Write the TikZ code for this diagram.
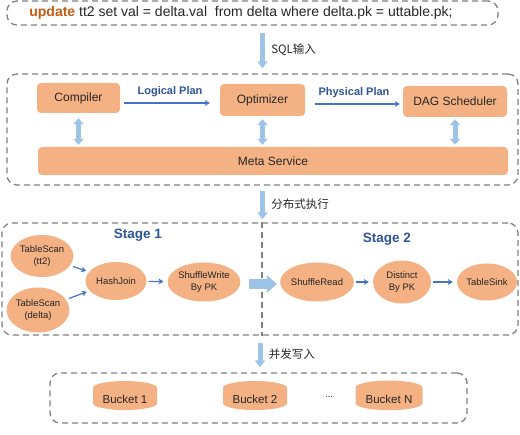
\documentclass[tikz,border=0pt]{standalone}
\usepackage{fontspec}
\setmainfont{Liberation Sans}
\newfontfamily\cjk{Noto Sans CJK SC}
\usetikzlibrary{positioning,arrows.meta,shapes.geometric}
\definecolor{fillorange}{HTML}{F4B183}
\definecolor{lightarrow}{HTML}{9DC3E6}
\definecolor{flowblue}{HTML}{4472C4}
\definecolor{stageblue}{HTML}{2F5597}
\definecolor{sqlorange}{HTML}{C55A11}
\definecolor{groupgray}{HTML}{808080}
\tikzset{
    >=Stealth,
    group/.style={rectangle, draw=groupgray, dash pattern=on 6pt off 4pt, line width=1.3pt, rounded corners=10pt, inner sep=0pt},
    block/.style={rectangle, rounded corners=4pt, fill=fillorange, align=center, inner sep=0pt, text=black!85, font=\fontsize{12}{14}\selectfont},
    op/.style={ellipse, fill=fillorange, align=center, inner sep=0pt, text=black!85, font=\fontsize{9.5}{12}\selectfont},
    bucket/.style={cylinder, shape border rotate=90, aspect=0.3, fill=fillorange, inner sep=0pt, text=black!85, font=\fontsize{11.5}{13}\selectfont},
    bigflow/.style={draw=lightarrow, line width=5pt, -{Triangle[width=10pt,length=7pt]}},
    wideflow/.style={draw=lightarrow, line width=10pt, -{Triangle[width=17pt,length=10pt]}},
    sync/.style={draw=lightarrow, line width=5pt, {Triangle[width=10pt,length=6pt]}-{Triangle[width=10pt,length=6pt]}},
    flow/.style={draw=flowblue, line width=1.2pt, -{Stealth[length=5pt,width=6pt]}},
    planlabel/.style={text=stageblue, font=\bfseries\fontsize{11}{13}\selectfont},
    stagelabel/.style={text=stageblue, font=\bfseries\fontsize{13.5}{15}\selectfont},
    steplabel/.style={right, font=\cjk\fontsize{11.5}{13}\selectfont, text=black!85}
}

\begin{document}
\begin{tikzpicture}[x=1pt, y=-1pt]
    \useasboundingbox (0,0) rectangle (520,435);

    % SQL statement
    \node[group, minimum width=491pt, minimum height=24pt] (sqlbox) at (252.5,13) {};
    \node[font=\fontsize{14}{16}\selectfont, text=black!85] (sql) at (241,13)
        {\textcolor{sqlorange}{\bfseries update} tt2 set val = delta.val\ \ from delta where delta.pk = uttable.pk;};

    % planning
    \node[group, minimum width=511pt, minimum height=111pt] (planbox) at (262.5,129.5) {};
    \node[block, minimum width=83pt, minimum height=30pt] (compiler) at (78.5,98) {Compiler};
    \node[block, minimum width=85pt, minimum height=32pt] (optimizer) at (262.5,100) {Optimizer};
    \node[block, minimum width=104pt, minimum height=31pt] (dag) at (455,101.5) {DAG Scheduler};
    \node[block, minimum width=470pt, minimum height=28pt] (meta) at (273,161) {Meta Service};

    \draw[flow, shorten <=4pt, shorten >=10pt] ([yshift=-5pt]compiler.east) -- ([yshift=-3pt]optimizer.west)
        node[planlabel, midway, above=2pt] (logical) {Logical Plan};
    \draw[flow, shorten <=10pt, shorten >=3pt] ([yshift=-4pt]optimizer.east) -- ([yshift=-2.5pt]dag.west)
        node[planlabel, midway, above=2pt] (physical) {Physical Plan};

    \draw[sync, shorten <=5pt, shorten >=2pt] (compiler.south) -- (compiler.south |- meta.north);
    \draw[sync, shorten <=3pt, shorten >=2pt] (optimizer.south) -- (optimizer.south |- meta.north);
    \draw[sync, shorten <=2pt, shorten >=2pt] (dag.south) -- (dag.south |- meta.north);

    % execution stages
    \node[group, minimum width=516pt, minimum height=112pt] (stagebox) at (260,279) {};
    \draw[groupgray, dash pattern=on 6pt off 4pt, line width=1.3pt] ([xshift=2pt]stagebox.north) -- ([xshift=2pt]stagebox.south);
    \node[stagelabel] (stage1) at (138,235) {Stage 1};
    \node[stagelabel] (stage2) at (387,239) {Stage 2};

    \node[op, minimum width=60pt, minimum height=42pt] (tt2) at (42,256) {TableScan\\(tt2)};
    \node[op, minimum width=61pt, minimum height=45pt] (delta) at (38,310) {TableScan\\(delta)};
    \node[op, minimum width=61pt, minimum height=38pt] (hash) at (116,281) {HashJoin};
    \node[op, minimum width=62pt, minimum height=39pt] (swrite) at (204,282) {ShuffleWrite\\By PK};
    \node[op, minimum width=65pt, minimum height=39pt] (sread) at (317,282) {ShuffleRead};
    \node[op, minimum width=58pt, minimum height=43pt] (distinct) at (402,282) {Distinct\\By PK};
    \node[op, minimum width=60pt, minimum height=37pt] (sink) at (487,282) {TableSink};

    \draw[flow, shorten <=3pt, shorten >=3pt] (tt2) -- (hash);
    \draw[flow, shorten <=3pt, shorten >=3pt] (delta) -- (hash);
    \draw[flow, shorten <=2pt, shorten >=4pt] (hash) -- (swrite);
    \draw[flow, shorten <=2pt, shorten >=4pt] (sread) -- (distinct);
    \draw[flow, shorten <=2pt, shorten >=4pt] (distinct) -- (sink);
    \draw[wideflow, shorten <=8pt, shorten >=3pt] ([yshift=-2pt]swrite.east) -- ([yshift=-2pt]sread.west);

    % buckets
    \node[group, minimum width=417pt, minimum height=50pt] (bucketbox) at (258.5,398) {};
    \node[bucket, minimum width=64pt, minimum height=29pt] (b1) at (125,399) {Bucket 1};
    \node[bucket, minimum width=64pt, minimum height=29pt] (b2) at (255,399) {Bucket 2};
    \node[font=\fontsize{9}{11}\selectfont] (dots) at (329,397) {...};
    \node[bucket, minimum width=67pt, minimum height=29pt] (bn) at (389,399) {Bucket N};

    % stage arrows
    \draw[bigflow, shorten <=7pt, shorten >=5pt] (sqlbox.south -| optimizer.north) -- (planbox.north -| optimizer.north)
        node[steplabel, midway, xshift=3pt] (sqlin) {SQL输入};
    \draw[bigflow, shorten <=5pt, shorten >=3pt] (planbox.south) -- (planbox.south |- stagebox.north)
        node[steplabel, midway, xshift=3pt] (exec) {分布式执行};
    \draw[bigflow, shorten <=7pt, shorten >=5pt] (stagebox.south) -- (stagebox.south |- bucketbox.north)
        node[steplabel, midway, xshift=3pt] (write) {并发写入};
\end{tikzpicture}
\end{document}
